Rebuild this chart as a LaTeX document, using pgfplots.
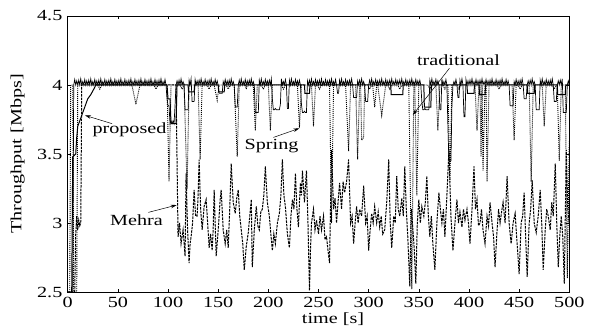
\documentclass[border=0pt]{standalone}
\usepackage{pgfplots}
\pgfplotsset{compat=1.18}
\usepackage{fontspec}
\setmainfont{Liberation Serif}[FakeStretch=1.3]
\usetikzlibrary{arrows.meta}
\begin{document}
\fontsize{15.5}{18}\selectfont
\begin{tikzpicture}
\begin{axis}[
  scale only axis, width=501.6pt, height=276pt,
  at={(0,0)}, anchor=south west,
  xmin=0, xmax=500, ymin=2.5, ymax=4.5,
  xtick={0,50,...,500}, ytick={2.5,3,3.5,4,4.5},
  tick align=inside, major tick length=3.5pt,
  tick style={black, line width=0.5pt},
  axis line style={line width=0.7pt},
  /pgf/number format/assume math mode=true,
  xlabel={time [s]}, ylabel={Throughput [Mbps]},
  xlabel style={at={(axis description cs:0.529,0)}, anchor=center, yshift=-27.3pt},
  ylabel style={at={(axis description cs:-0.0997,0.5)}, anchor=center},
  clip=true,
]
% Mehra (dashed)
\addplot[black, line width=1pt, dash pattern=on 2.5pt off 1pt] coordinates {
(0,2.5)(7,2.5)(8,2.92)(9,3.05)(10,2.95)(11,3.02)(12,2.98)(13,3.0)(14,4.0)(108,4.0)
(110,2.9)(111.5,3.0)(113,2.85)(115,2.95)(117,2.76)(118,3.36)(119.5,2.95)(121,2.71)(122,2.85)(123,2.90)(124.5,3.0)(126,3.24)(127.5,3.05)(129,3.05)(130,3.2)(131,3.46)(132.5,3.1)(134,2.95)(136,3.12)(138,3.17)(139.5,3.0)(141,2.82)(142.5,2.92)(144,2.80)(145,2.95)(146,3.24)(147,3.0)(148,2.76)(150,2.95)(152,3.17)(153,3.24)(155,2.95)(157,2.85)(158.5,2.95)(160,2.82)(161.5,3.1)(163,3.43)(165,3.15)(167,3.07)(168.5,3.18)(170,3.24)(171.5,3.05)(173,2.95)(174.5,2.85)(176,2.66)(178,2.83)(180,2.93)(181.5,3.05)(183,3.17)(184,2.68)(186,2.95)(188,3.12)(189.5,2.98)(191,2.95)(192.5,3.08)(194,3.10)(195.5,3.2)(197,3.41)(199,3.15)(201,3.05)(202.5,2.92)(204,2.80)(205.5,2.92)(207,2.85)(209,3.0)(211,3.07)(212.5,3.2)(214,3.46)(215.5,3.2)(217,3.12)(219,2.92)(221,2.82)(222.5,3.05)(224,3.17)(225.5,3.1)(227,3.36)(228.5,3.1)(230,2.97)(231,3.15)(232,3.29)(233,3.2)(234,3.38)(236,3.15)(238,3.38)(239.5,3.0)(241,2.51)(242,2.8)(243,3.0)
(245,3.1)(246.5,2.95)(248,3.02)(250,2.92)(251.5,3.05)(253,2.95)(255,3.05)(256.5,2.88)(258,2.90)(259.5,2.8)(261,2.71)(263,3.53)(265,3.1)(266.5,3.18)(268,3.00)(269.5,3.15)(271,3.29)(273,3.1)(274.5,3.3)(276,3.22)(278,3.3)(280,3.46)(282,3.0)(283.5,3.05)(285,2.85)(286.5,3.0)(288,3.12)(289.5,3.0)(291,3.10)(293,3.05)(295,3.27)(297,3.0)(298.5,3.05)(300,2.80)(301.5,2.95)(303,3.07)(304.5,3.0)(306,3.12)(308,3.0)(309.5,3.08)(311,2.97)(312.5,3.05)(314,2.92)(316,2.95)(318,3.15)(320,3.46)(321.5,3.0)(323,2.82)(325,3.05)(326.5,3.0)(328,3.34)(329.5,3.1)(331,3.05)(333,3.18)(334.5,3.05)(336,3.41)(337.5,3.1)(339,2.90)(341,2.54)(342.5,3.1)(344,2.97)(345.5,2.8)(347,2.56)(348.5,3.0)(350,3.17)(351.5,3.0)(353,3.12)(355,3.05)(356.5,3.15)(358,3.34)(359.5,3.05)(361,2.90)(362.5,3.05)(364,2.85)(366,2.66)(368,3.0)(370,3.22)(371.5,3.1)(373,3.00)(374.5,3.1)(376,2.90)(378,3.2)(380,3.53)(382,3.05)(384,2.80)(386,3.0)(388,3.17)(389.5,3.0)(391,3.08)(393,2.97)(394.5,3.1)(396,3.02)(398,3.10)(399.5,3.0)(401,2.85)(403,3.1)(405,3.41)(406.5,3.1)(408,3.17)(409.5,2.98)(411,3.00)(412.5,3.1)(414,2.95)(416,2.85)(418,3.05)(419.5,2.98)(421,3.15)(423,3.0)(424.5,2.9)(426,2.68)(428,2.95)(429.5,3.1)(431,3.00)(432.5,3.08)(434,3.15)(436,3.0)(438,3.34)(440,3.0)(442,2.85)(444,3.0)(446,3.07)(448,2.85)(450,2.63)(452,3.0)(453.5,3.05)(455,3.22)(456.5,2.9)(458,2.61)(460,3.0)(461.5,3.1)(463,3.31)(465,3.0)(467,2.93)(469,3.05)(471,3.24)(472.5,3.0)(474,2.66)(476,2.95)(477.5,3.1)(479,3.05)(481,2.95)(482.5,3.15)(484,3.05)(486,3.43)(487.5,3.0)(489,2.68)(490.5,2.9)(492,3.05)(493.5,2.9)(495,2.56)(497,3.53)(498.5,3.1)(500,3.0)
};
% Spring (dotted)
\addplot[black, line width=0.9pt, dash pattern=on 1pt off 1pt] coordinates {
(0,2.5)(2,2.5)(3,4.0)(5,4.0)(6,2.5)(9,2.5)(10,4.0)(30,4.0)(32,3.97)(34,4.0)(64,4.0)(68,3.86)(72,4.0)(86,4.0)(88,3.97)(90,4.0)(99,4.0)(101,3.3)(103,4.0)(112,4.0)(114,3.97)(116,4.0)(119,3.25)(121,4.0)(130,4.0)(132,3.46)(134,4.0)(139,4.0)(141,3.97)(143,4.0)(146,4.0)(149,3.89)(151,4.0)(158,4.0)(160,3.97)(162,4.0)(166,4.0)(169,3.48)(171,4.0)(177,4.0)(178,3.97)(179,4.0)(185,4.0)(187,3.67)(189,4.0)(193,4.0)(195,3.97)(197,4.0)(200,4.0)(202,3.67)(204,4.0)(213,4.0)(215,3.97)(217,4.0)(229,4.0)(231,3.69)(233,4.0)(243,4.0)(245,3.70)(247,4.0)(249,4.0)(251,3.97)(253,4.0)(261,4.0)(263,3.0)(265,4.0)(277,4.0)(280,3.52)(282,4.0)(287,4.0)(289,3.46)(291,4.0)(292,4.0)(293,3.60)(295,3.62)(296,4.0)(299,4.0)(301,3.97)(303,4.0)(304,4.0)(306,3.84)(308,4.0)(309,4.0)(313,3.78)(317,4.0)(319,4.0)(321,3.97)(323,4.0)(329,4.0)(331,3.97)(333,4.0)(340,4.0)(343,2.52)(345,4.0)(346,4.0)(348,3.2)(350,4.0)(359,4.0)(361,3.97)(363,4.0)(367,4.0)(369,3.67)(371,4.0)(374,4.0)(376,3.97)(378,4.0)(379,4.0)(381,3.3)(383,4.0)(388,4.0)(390,3.97)(392,4.0)(406,4.0)(408,3.67)(410,4.0)(411,4.0)(412,3.48)(413,4.0)(414,3.38)(416,4.0)(417,4.0)(418,3.3)(420,4.0)(428,4.0)(430,3.97)(432,4.0)(443,4.0)(445,3.6)(447,4.0)(449,4.0)(451,3.97)(453,4.0)(460,4.0)(462,3.3)(464,4.0)(473,4.0)(475,3.7)(477,4.0)(483,4.0)(485,3.97)(487,4.0)(488,4.0)(490,3.45)(492,4.0)(496,4.0)(498,2.6)(500,3.6)
};
% traditional (thin solid)
\addplot[black, line width=0.7pt] coordinates {
(0,2.5)(5,2.5)(6,4)(7,4.04)(8,4)(9,4.03)
(10,4)(11,4.035)(12,4)(13,4.045)(14,4)(15,4.025)(16,4)(17,4.04)(18,4)(19,4.03)
(20,4)(21,4.035)(22,4)(23,4.045)(24,4)(25,4.025)(26,4)(27,4.04)(28,4)(29,4.03)
(30,4)(31,4.035)(32,4)(33,4.045)(34,4)(35,4.025)(36,4)(37,4.04)(38,4)(39,4.03)
(40,4)(41,4.035)(42,4)(43,4.045)(44,4)(45,4.025)(46,4)(47,4.04)(48,4)(49,4.03)
(50,4)(51,4.035)(52,4)(53,4.045)(54,4)(55,4.025)(56,4)(57,4.04)(58,4)(59,4.03)
(60,4)(61,4.035)(62,4)(63,4.045)(64,4)(65,4.025)(66,4)(67,4.04)(68,4)(69,4.03)
(70,4)(71,4.035)(72,4)(73,4.045)(74,4)(75,4.025)(76,4)(77,4.04)(78,4)(79,4.03)
(80,4)(81,4.035)(82,4)(83,4.045)(84,4)(85,4.025)(86,4)(87,4.04)(88,4)(89,4.03)
(90,4)(91,4.035)(92,4)(93,4.045)(94,4)(95,4.025)(96,4)(97,4.04)(98,4)(99,3.9)
(100,3.85)(101,3.85)(102,3.72)(103,3.74)(104,3.72)(105,3.74)(106,3.72)(107,3.85)(108,4)(109,4.03)
(110,4)(111,4.035)(112,4)(113,4.045)(114,4)(115,4.025)(116,4)(117,3.82)(118,3.82)(119,3.82)
(120,3.82)(121,4.035)(122,4)(123,4.045)(124,3.88)(125,3.88)(126,3.88)(127,4.04)(128,4)(129,4.03)
(130,4)(131,4.035)(132,4)(133,4.045)(134,4)(135,4.025)(136,4)(137,4.04)(138,4)(139,4.03)
(140,4)(141,4.035)(142,4)(143,4.045)(144,4)(145,4.025)(146,4)(147,4.04)(148,4)(149,4.03)
(150,4)(151,3.94)(152,3.94)(153,3.94)(154,3.94)(155,4.025)(156,4)(157,4.04)(158,4)(159,4.03)
(160,4)(161,4.035)(162,4)(163,4.045)(164,4)(165,4.025)(166,4)(167,3.84)(168,3.84)(169,3.84)
(170,4)(171,4.035)(172,4)(173,4.045)(174,4)(175,4.025)(176,4)(177,4.04)(178,4)(179,4.03)
(180,4)(181,4.035)(182,4)(183,4.045)(184,4)(185,4.025)(186,4)(187,3.80)(188,3.80)(189,3.80)
(190,3.80)(191,4.035)(192,4)(193,4.045)(194,4)(195,4.025)(196,4)(197,4.04)(198,4)(199,4.03)
(200,4)(201,4.035)(202,4)(203,4.045)(204,3.9)(205,3.82)(206,3.82)(207,3.83)(208,3.82)(209,3.82)
(210,3.82)(211,3.82)(212,3.86)(213,4.045)(214,4)(215,4.025)(216,4)(217,4.04)(218,4)(219,3.83)
(220,3.83)(221,4.035)(222,4)(223,4.045)(224,4)(225,4.025)(226,4)(227,4.04)(228,4)(229,4.03)
(230,4)(231,4.035)(232,4)(233,3.86)(234,3.80)(235,3.80)(236,3.81)(237,3.80)(238,3.80)(239,4.03)
(240,4)(241,4.035)(242,4)(243,4.045)(244,4)(245,4.025)(246,4)(247,4.04)(248,4)(249,4.03)
(250,4)(251,4.035)(252,4)(253,4.045)(254,4)(255,4.025)(256,4)(257,4.04)(258,4)(259,4.03)
(260,4)(261,4.035)(262,4)(263,4.045)(264,4)(265,4.025)(266,4)(267,4.04)(268,4)(269,3.94)
(270,3.94)(271,4.035)(272,4)(273,4.045)(274,4)(275,4.025)(276,4)(277,4.04)(278,4)(279,4.03)
(280,4)(281,4.035)(282,4)(283,4.045)(284,4)(285,3.91)(286,3.91)(287,3.91)(288,3.91)(289,4.03)
(290,4)(291,4.035)(292,4)(293,4.045)(294,4)(295,4.025)(296,4)(297,3.88)(298,3.88)(299,3.88)
(300,4)(301,4.035)(302,4)(303,4.045)(304,4)(305,4.025)(306,4)(307,4.04)(308,4)(309,4.03)
(310,4)(311,4.035)(312,4)(313,4.045)(314,4)(315,4.025)(316,4)(317,4.04)(318,4)(319,4.03)
(320,4)(321,4.035)(322,4)(323,4.045)(324,4)(325,4.025)(326,4)(327,4.04)(328,4)(329,4.03)
(330,4)(331,4.035)(332,4)(333,4.045)(334,4)(335,4.025)(336,4)(337,4.04)(338,4)(339,4.03)
(340,4)(341,4.035)(342,4)(343,4.045)(344,4)(345,4.025)(346,4)(347,4.04)(348,4)(349,4.03)
(350,4)(351,4.035)(352,4)(353,3.88)(354,3.82)(355,3.82)(356,3.83)(357,3.82)(358,3.82)(359,3.82)
(360,3.82)(361,4.035)(362,4)(363,4.045)(364,4)(365,4.025)(366,4)(367,4.04)(368,4)(369,4.03)
(370,4)(371,3.82)(372,3.82)(373,4.045)(374,4)(375,4.025)(376,4)(377,4.04)(378,4)(379,3.7)
(380,3.45)(381,3.45)(382,3.45)(383,3.85)(384,4)(385,4.025)(386,4)(387,4.04)(388,4)(389,3.91)
(390,3.91)(391,4.035)(392,4)(393,4.045)(394,4)(395,3.77)(396,3.77)(397,4.04)(398,4)(399,4.03)
(400,4)(401,4.035)(402,4)(403,4.045)(404,4)(405,4.025)(406,4)(407,4.04)(408,4)(409,4.03)
(410,4)(411,4.035)(412,4)(413,4.045)(414,4)(415,4.025)(416,4)(417,4.04)(418,4)(419,4.03)
(420,4)(421,4.035)(422,4)(423,4.045)(424,4)(425,4.025)(426,4)(427,4.04)(428,4)(429,4.03)
(430,4)(431,4.035)(432,4)(433,4.045)(434,4)(435,4.025)(436,4)(437,4.04)(438,4)(439,4.03)
(440,4)(441,3.85)(442,3.85)(443,3.85)(444,3.85)(445,4.025)(446,4)(447,4.04)(448,4)(449,4.03)
(450,4)(451,4.035)(452,4)(453,4.045)(454,4)(455,3.9)(456,3.9)(457,3.9)(458,4)(459,4.03)
(460,4)(461,4.035)(462,4)(463,4.045)(464,4)(465,4.025)(466,4)(467,3.82)(468,3.82)(469,3.82)
(470,3.82)(471,4.035)(472,4)(473,4.045)(474,4)(475,4.025)(476,4)(477,4.04)(478,4)(479,4.03)
(480,4)(481,4.035)(482,4)(483,4.045)(484,4)(485,3.88)(486,3.88)(487,3.88)(488,4)(489,4.03)
(490,4)(491,4.035)(492,4)(493,4.045)(494,3.80)(495,3.80)(496,3.80)(497,3.80)(498,4)(499,4.03)(500,4)
};
% proposed (solid)
\addplot[black, line width=1pt] coordinates {
(0,2.5)(4,2.5)(5,3.48)(8,3.5)(9,3.62)(10,3.7)(12,3.74)(14,3.78)(16,3.82)(18,3.86)(20,3.9)(23,3.93)(26,3.97)(28,4.0)(99,4.0)(100,3.9)(102,3.9)(103,3.72)(108,3.72)(109,4.0)(120,4.0)(120.5,3.95)(126,3.95)(126.5,4.0)(150,4.0)(150.5,3.95)(156,3.95)(156.5,4.0)(236,4.0)(236.5,3.94)(241,3.94)(241.5,4.0)(322,4.0)(322.5,3.93)(334,3.93)(334.5,4.0)(355,4.0)(355.5,3.84)(362,3.84)(362.5,4.0)(398,4.0)(398.5,3.94)(405,3.94)(405.5,4.0)(410,4.0)(410.5,3.93)(416,3.93)(416.5,4.0)(458,4.0)(458.5,3.94)(465,3.94)(465.5,4.0)(488,4.0)(488.5,3.93)(496,3.93)(496.5,4.0)(500,4.0)
};
% annotations
\node at (axis cs:61.6,3.674) {proposed};
\draw[-{Stealth[length=6pt,width=3.5pt]}, line width=0.5pt] (axis cs:44.2,3.72) -- (axis cs:17.2,3.78);
\node at (axis cs:203.2,3.558) {Spring};
\draw[-{Stealth[length=6pt,width=3.5pt]}, line width=0.5pt] (axis cs:205,3.62) -- (axis cs:230.9,3.686);
\node at (axis cs:389.6,4.181) {traditional};
\draw[-{Stealth[length=6pt,width=3.5pt]}, line width=0.5pt] (axis cs:380.5,4.121) -- (axis cs:344,3.783);
\node at (axis cs:68.6,3.017) {Mehra};
\draw[-{Stealth[length=6pt,width=3.5pt]}, line width=0.5pt] (axis cs:80.4,3.077) -- (axis cs:108.7,3.13);
\end{axis}
\pgfresetboundingbox
\path[use as bounding box] (-67.7pt,-37pt) rectangle (523.3pt,292pt);
\end{tikzpicture}
\end{document}
